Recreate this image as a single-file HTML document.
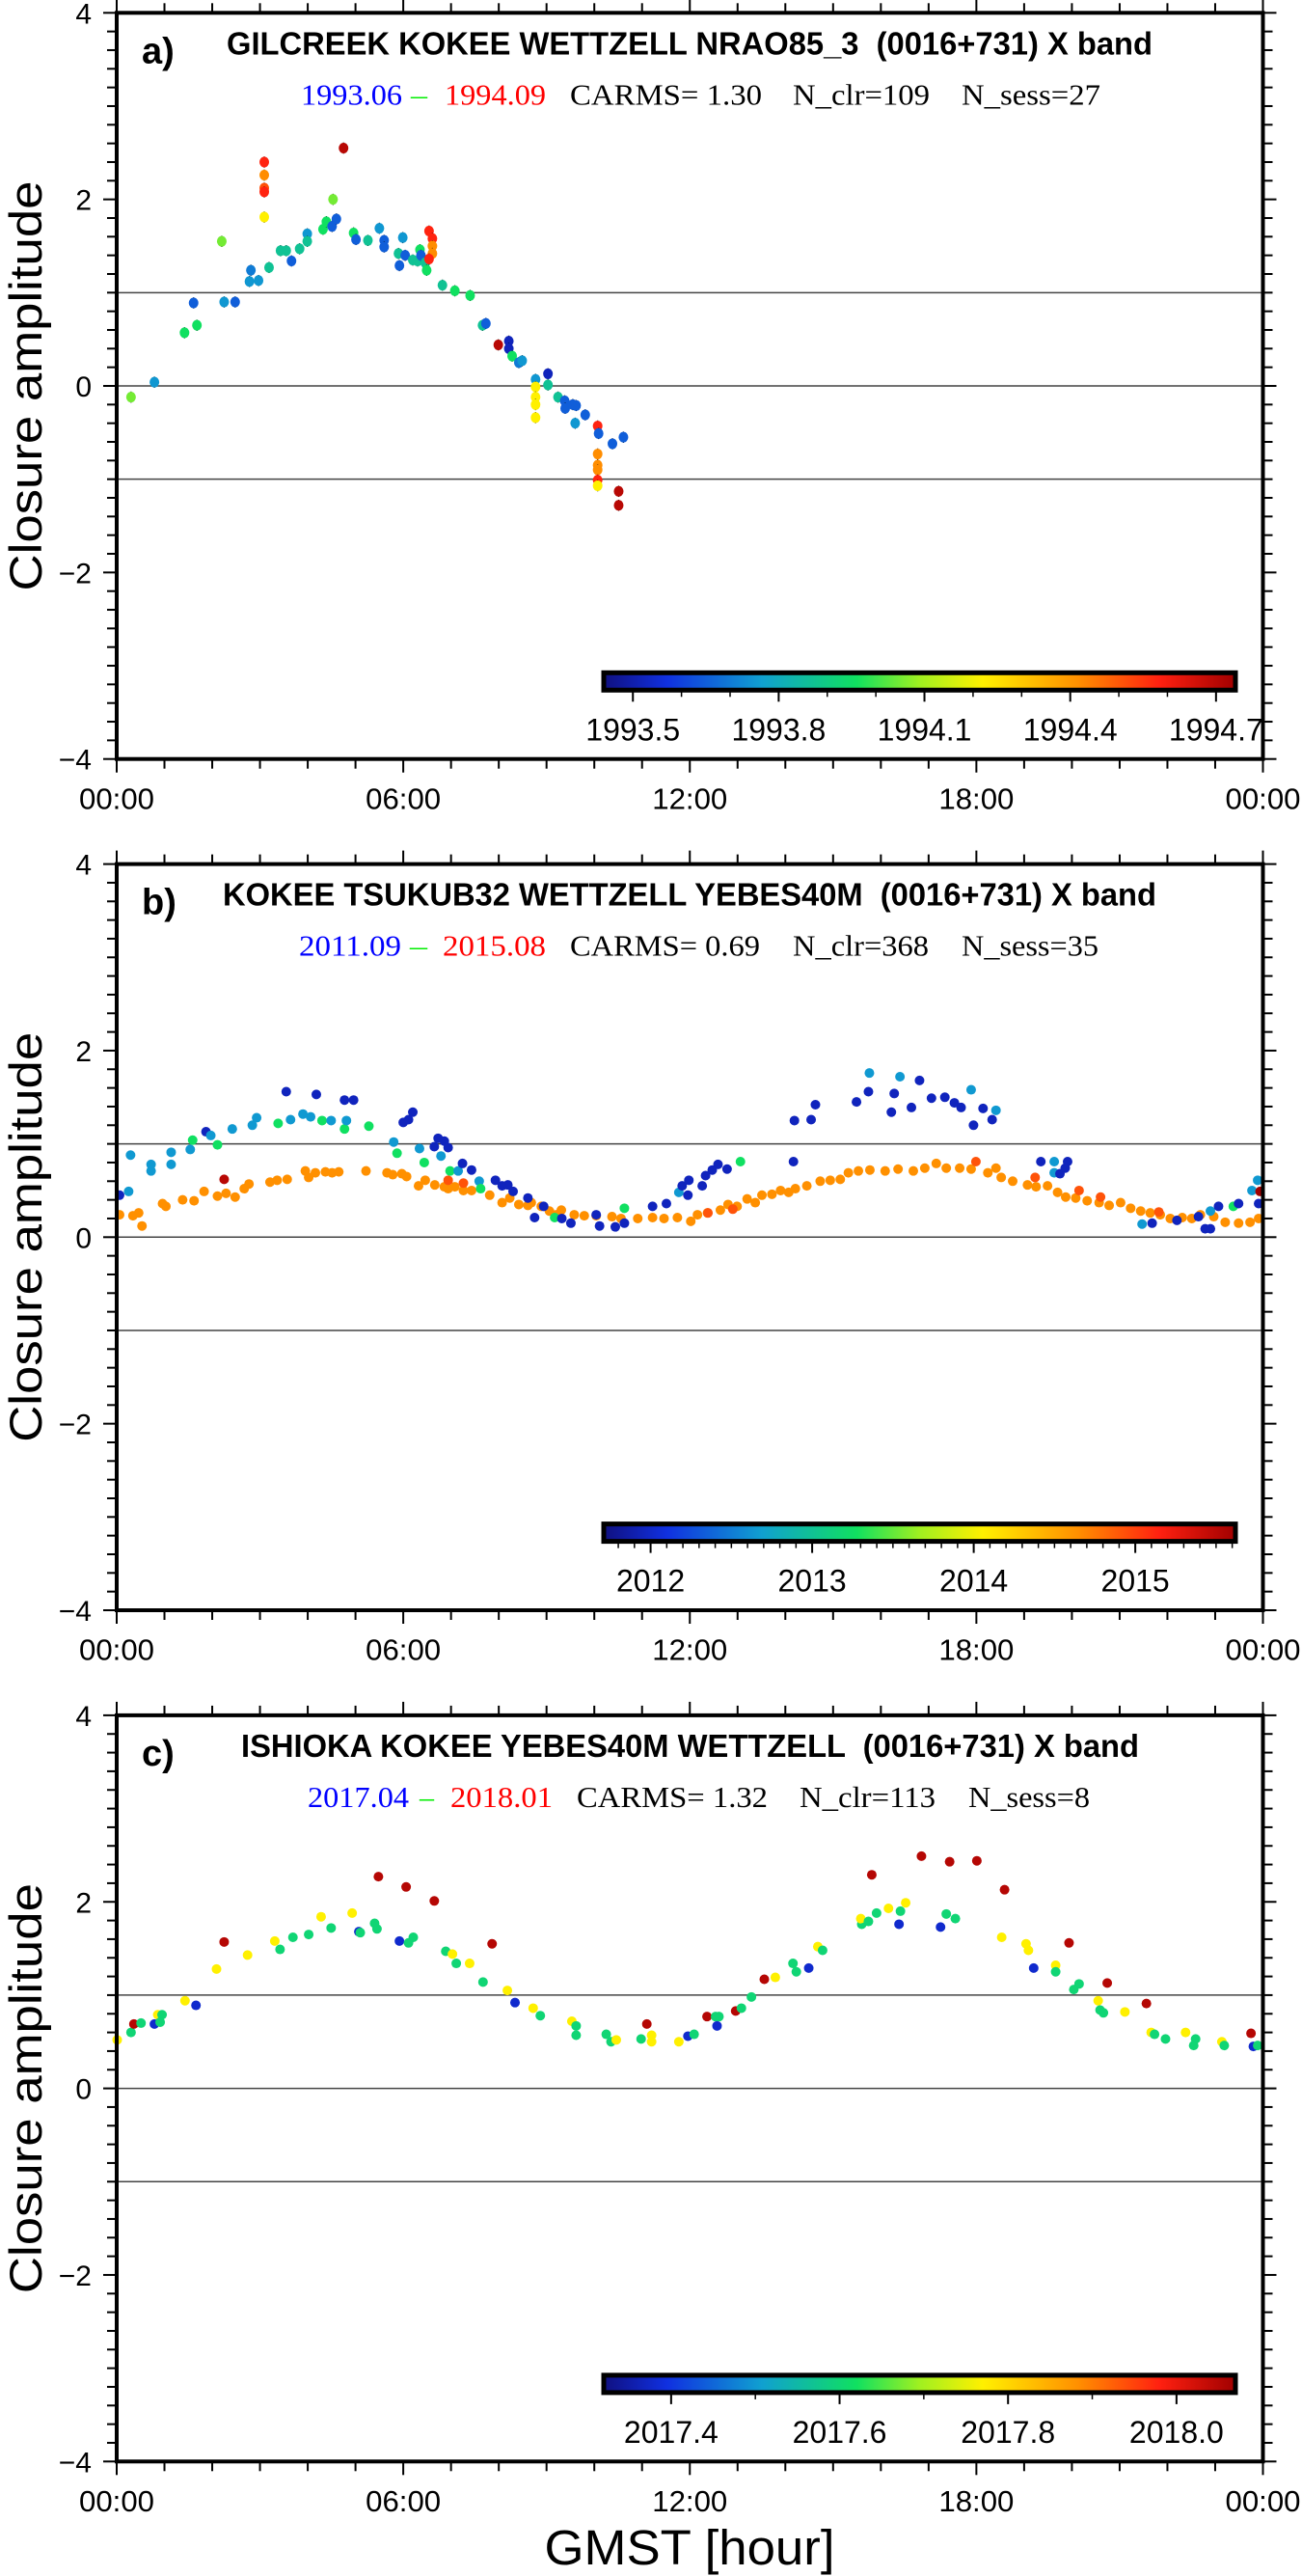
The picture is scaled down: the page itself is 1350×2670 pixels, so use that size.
<!DOCTYPE html>
<html><head><meta charset="utf-8">
<style>
html,body{margin:0;padding:0;background:#fff;}
svg{display:block;}
</style></head>
<body>
<svg id="fig" xmlns="http://www.w3.org/2000/svg" width="1350" height="2670" viewBox="0 0 1350 2670">
<defs>
<linearGradient id="cmap" x1="0" x2="1" y1="0" y2="0">
<stop offset="0" stop-color="#101080"/><stop offset="0.1" stop-color="#1030e0"/><stop offset="0.25" stop-color="#10a0d0"/><stop offset="0.4" stop-color="#10e060"/><stop offset="0.5" stop-color="#a0f020"/><stop offset="0.6" stop-color="#fff000"/><stop offset="0.75" stop-color="#ff9000"/><stop offset="0.88" stop-color="#ff2010"/><stop offset="1" stop-color="#a00000"/>
</linearGradient>
</defs>
<text x="715" y="2658" font-family="Liberation Sans, sans-serif" font-size="51" text-anchor="middle" textLength="301" lengthAdjust="spacingAndGlyphs">GMST [hour]</text>
</svg>
<script>
// ---------- Panel a data ----------
const aHours=[0.30,0.79,1.61,1.42,1.68,2.20,2.25,2.48,2.81,2.78,2.97,3.09,3.09,3.09,3.09,3.09,3.19,3.43,3.55,3.66,3.83,3.99,3.99,4.32,4.39,4.53,4.51,4.60,4.75,4.96,5.01,5.26,5.50,5.60,5.60,5.92,5.90,5.99,6.04,6.20,6.30,6.35,6.37,6.46,6.49,6.54,6.61,6.61,6.61,6.54,6.82,7.08,7.40,7.66,7.73,7.99,8.21,8.21,8.28,8.42,8.49,8.77,8.77,8.77,8.77,8.77,9.03,9.03,9.24,9.38,9.39,9.55,9.62,9.60,9.81,10.07,10.09,10.07,10.07,10.07,10.07,10.07,10.38,10.61,10.51,10.51];
const aAmps=[-0.12,0.04,0.89,0.57,0.65,1.55,0.90,0.90,1.24,1.12,1.13,2.40,2.26,2.12,2.08,1.81,1.27,1.45,1.45,1.34,1.47,1.63,1.55,1.68,1.76,2.00,1.71,1.79,2.55,1.64,1.57,1.56,1.69,1.56,1.49,1.29,1.42,1.59,1.40,1.35,1.34,1.46,1.40,1.32,1.24,1.66,1.58,1.50,1.42,1.36,1.08,1.02,0.97,0.65,0.67,0.44,0.48,0.40,0.32,0.25,0.27,0.07,-0.01,-0.12,-0.20,-0.34,0.13,0.01,-0.12,-0.16,-0.24,-0.20,-0.21,-0.40,-0.31,-0.43,-0.51,-0.73,-0.85,-0.90,-1.01,-1.07,-0.62,-0.55,-1.13,-1.28];
const aEpochs=[2.05,1.75,1.65,1.96,1.96,2.05,1.75,1.65,1.70,1.75,1.75,2.58,2.42,2.51,2.58,2.22,1.87,1.87,1.87,1.65,1.87,1.75,1.87,1.96,1.96,2.05,1.65,1.65,2.70,1.96,1.65,1.87,1.75,1.65,1.65,1.65,1.87,1.75,1.65,1.87,1.87,1.96,1.65,1.87,1.96,2.58,2.58,2.42,2.42,2.58,1.87,1.96,1.96,1.87,1.65,2.70,1.52,1.52,1.96,1.70,1.75,1.75,2.22,2.22,2.22,2.22,1.52,1.87,1.87,1.65,1.65,1.65,1.65,1.75,1.65,2.58,1.65,2.42,2.42,2.42,2.58,2.22,1.65,1.65,2.70,2.70].map(v=>1992+v);
const aTicks=[1993.5,1993.8,1994.1,1994.4,1994.7];

// ---------- Panel b data ----------
const bOrangeHours=[0.06,0.34,0.46,0.53,0.96,1.03,1.38,1.62,1.83,2.11,2.29,2.48,2.67,2.77,3.21,3.36,3.57,3.95,4.02,4.16,4.37,4.51,4.65,5.22,5.66,5.78,5.97,6.07,6.32,6.46,6.66,6.86,6.94,7.08,7.26,7.43,7.81,8.07,8.23,8.42,8.61,8.68,8.89,9.06,9.20,9.31,9.58,9.79,10.04,10.37,10.56,10.91,11.22,11.46,11.74,12.02,12.16,12.37,12.64,12.80,12.99,13.20,13.37,13.51,13.72,13.90,14.07,14.21,14.45,14.73,14.94,15.15,15.32,15.53,15.77,16.09,16.36,16.68,16.92,17.16,17.37,17.65,17.89,18.24,18.41,18.52,18.76,19.07,19.25,19.49,19.70,19.87,20.08,20.32,20.57,20.78,21.02,21.23,21.44,21.64,21.85,22.06,22.31,22.51,22.69,22.97,23.21,23.49,23.73,23.91,19.23,20.15,20.60,21.82,17.99,12.90,12.38,7.26,6.94];
const bOrangeAmps=[0.24,0.23,0.26,0.12,0.36,0.33,0.40,0.39,0.49,0.44,0.47,0.43,0.52,0.57,0.59,0.61,0.62,0.71,0.64,0.69,0.70,0.69,0.70,0.71,0.69,0.67,0.68,0.65,0.55,0.61,0.56,0.54,0.52,0.54,0.50,0.50,0.45,0.37,0.42,0.35,0.34,0.37,0.33,0.28,0.24,0.29,0.24,0.23,0.23,0.22,0.20,0.20,0.21,0.20,0.21,0.17,0.24,0.26,0.29,0.35,0.33,0.41,0.37,0.45,0.46,0.50,0.48,0.52,0.55,0.60,0.61,0.62,0.69,0.71,0.72,0.71,0.73,0.71,0.74,0.79,0.74,0.74,0.73,0.69,0.74,0.64,0.60,0.56,0.54,0.55,0.48,0.43,0.42,0.39,0.37,0.34,0.37,0.31,0.28,0.26,0.24,0.20,0.21,0.20,0.24,0.22,0.16,0.15,0.16,0.20,0.64,0.50,0.43,0.27,0.81,0.30,0.26,0.58,0.61];
const bOrangeEpochs=bOrangeHours.map((h,i)=> i<110 ? 2014.64 : 2014.92);
const bHours=[0.06,0.25,0.29,0.72,0.72,1.14,1.14,1.54,1.59,1.87,1.97,2.11,2.25,2.42,2.84,2.93,3.38,3.55,3.64,3.90,4.06,4.18,4.30,4.49,4.77,4.96,4.77,4.81,5.28,5.80,5.87,6.00,6.11,6.20,6.34,6.44,6.65,6.73,6.86,6.94,6.79,6.98,7.15,7.24,7.43,7.59,7.62,7.93,8.07,8.19,8.30,8.61,8.75,8.94,9.17,9.32,9.51,10.04,10.11,10.44,10.63,10.63,11.22,11.51,11.77,11.84,11.98,11.96,12.26,12.33,12.47,12.59,12.78,13.06,14.17,14.19,14.54,14.63,15.49,15.74,15.76,16.22,16.28,16.40,16.64,16.81,17.06,17.34,17.54,17.68,17.89,17.94,18.14,18.33,18.41,19.35,19.63,19.63,19.75,19.86,19.91,21.47,21.68,22.20,22.65,22.79,22.90,22.90,23.07,23.38,23.49,23.77,23.89,23.91,23.94];
const bAmps=[0.45,0.49,0.88,0.78,0.71,0.91,0.78,0.94,1.04,1.13,1.09,0.99,0.62,1.16,1.20,1.28,1.22,1.56,1.26,1.32,1.29,1.53,1.25,1.25,1.47,1.47,1.16,1.25,1.19,1.02,0.90,1.23,1.26,1.34,0.95,0.80,0.97,1.06,1.03,0.96,0.87,0.71,0.71,0.79,0.72,0.60,0.52,0.61,0.55,0.56,0.49,0.42,0.21,0.33,0.21,0.20,0.15,0.24,0.12,0.11,0.31,0.15,0.33,0.36,0.48,0.55,0.61,0.45,0.55,0.66,0.72,0.78,0.73,0.81,0.81,1.25,1.26,1.42,1.45,1.56,1.76,1.34,1.54,1.72,1.39,1.68,1.49,1.50,1.44,1.39,1.58,1.20,1.38,1.26,1.36,0.81,0.81,0.69,0.68,0.74,0.81,0.14,0.15,0.18,0.22,0.09,0.09,0.28,0.33,0.33,0.36,0.50,0.61,0.36,0.49];
const bCodes="btttttttgbtgr"+"tttgbtttbg"+"tbbgtgtg"+"bbbtgbbbbtg"+"tbbtgbbbbbbb"+"gbbbbbgbbb"+"tbbbbbbbb"+"gbbbbbb"+"tbbtbbbbbbtbbb"+"tbttbb"+"btbbbbbtbgbttb";
const bEpochs=bHours.map((h,i)=>({b:2011.96,t:2012.65,g:2013.27,r:2015.50})[bCodes[i]]);
const bTicks=[2012,2013,2014,2015];

// ---------- Panel c data ----------
const cHours=[0.01,0.30,0.36,0.51,0.79,0.86,0.91,0.95,1.43,1.66,2.09,2.25,2.74,3.31,3.42,3.69,4.02,4.28,4.49,4.93,5.07,5.10,5.40,5.45,5.48,5.92,6.11,6.21,6.06,6.65,6.89,7.03,7.11,7.39,7.86,7.67,8.18,8.34,8.72,8.87,9.53,9.62,9.62,10.25,10.35,10.46,10.98,11.10,11.20,11.20,11.77,11.96,12.09,12.36,12.54,12.61,12.57,12.96,13.08,13.29,13.56,13.79,14.16,14.23,14.49,14.68,14.78,15.60,15.58,15.74,15.81,15.91,16.16,16.38,16.41,16.52,16.85,17.25,17.37,17.44,17.56,18.01,18.53,18.59,19.04,19.09,19.20,19.66,19.66,19.94,20.04,20.15,20.74,20.55,20.59,20.66,21.11,21.56,21.66,21.73,21.96,22.38,22.55,22.59,23.14,23.19,23.75,23.80,23.89];
const cAmps=[0.52,0.60,0.69,0.70,0.69,0.79,0.71,0.79,0.94,0.89,1.28,1.57,1.43,1.58,1.49,1.62,1.65,1.84,1.72,1.88,1.68,1.67,1.77,1.71,2.27,1.58,1.56,1.62,2.16,2.01,1.47,1.44,1.34,1.34,1.55,1.14,1.05,0.92,0.86,0.78,0.72,0.67,0.57,0.58,0.50,0.52,0.53,0.69,0.57,0.50,0.50,0.56,0.58,0.77,0.77,0.77,0.67,0.83,0.86,0.98,1.17,1.19,1.34,1.25,1.29,1.52,1.48,1.76,1.82,1.79,2.29,1.88,1.93,1.76,1.90,1.99,2.49,1.73,1.87,2.43,1.82,2.44,1.62,2.13,1.55,1.48,1.29,1.32,1.25,1.56,1.06,1.12,1.13,0.94,0.84,0.81,0.82,0.91,0.60,0.58,0.53,0.60,0.46,0.53,0.50,0.46,0.59,0.45,0.46];
const cCodes="ygrgbyggybyryyggg"+"ygybgggrbg"+"grrgygyrgy"+"bygyggggyg"+"ryyybgrggb"+"rggryggbyg"+"gygrgybgyr"+"bgrgryryyb"+"ygrggryggy"+"ryggyggygr"+"bg";
const cEpochs=cHours.map((h,i)=>({b:2017.38,g:2017.60,y:2017.77,r:2018.05})[cCodes[i]]);
const cTicks=[2017.4,2017.6,2017.8,2018.0];

const NS="http://www.w3.org/2000/svg";
const svg=document.getElementById('fig');
const L=121,R=1309.5,PH=773.4;
const stops=[[0,[16,16,128]],[0.1,[16,48,224]],[0.25,[16,160,208]],[0.4,[16,224,96]],[0.5,[160,240,32]],[0.6,[255,240,0]],[0.75,[255,144,0]],[0.88,[255,32,16]],[1,[160,0,0]]];
function cmap(t){t=Math.max(0,Math.min(1,t));for(let i=1;i<stops.length;i++){if(t<=stops[i][0]){const a=stops[i-1],b=stops[i];const f=(t-a[0])/(b[0]-a[0]);const c=a[1].map((v,k)=>Math.round(v+(b[1][k]-v)*f));return 'rgb('+c.join(',')+')';}}return 'rgb(160,0,0)';}
function mk(tag,attrs,parent,name){const el=document.createElementNS(NS,tag);for(const k in attrs)el.setAttribute(k,attrs[k]);


(parent||svg).appendChild(el);return el;}
function txt(s,attrs,parent,name){const el=mk('text',Object.assign({'font-family':'Liberation Sans, sans-serif'},attrs),parent,name);el.textContent=s;return el;}

function panel(idx,letter,title,titleX,sub,hoursArrs,ampArrs,epochArrs,cbStart,cbEnd,cbTicks,cbMinor,cbLabelFmt){
  const T=13.3+idx*882.3;
  const g=mk('g',{},svg,'panel-'+letter);
  const x=h=>L+(R-L)*h/24;
  const y=v=>T+PH*(4-v)/8;
  [1,0,-1].forEach(v=>mk('line',{x1:L,x2:R,y1:y(v),y2:y(v),stroke:'#444','stroke-width':1.5},g,'reference-line'));
  for(let i=0;i<=40;i++){const v=-4+i*0.2;const maj=(i%10===0);const len=maj?14:10;
    mk('line',{x1:L-len,x2:L,y1:y(v),y2:y(v),stroke:'#000','stroke-width':2},g,'y-tick-left');
    mk('line',{x1:R,x2:R+len,y1:y(v),y2:y(v),stroke:'#000','stroke-width':2},g,'y-tick-right');}
  for(let h=0;h<=24;h++){const maj=(h%6===0);const len=maj?14:10;
    mk('line',{x1:x(h),x2:x(h),y1:T-len,y2:T,stroke:'#000','stroke-width':2},g,'x-tick-top');
    mk('line',{x1:x(h),x2:x(h),y1:T+PH,y2:T+PH+len,stroke:'#000','stroke-width':2},g,'x-tick-bottom');}
  [4,2,0,-2,-4].forEach(v=>txt(v<0?'\u2212'+(-v):String(v),{x:95,y:y(v)+11,'font-size':30,'text-anchor':'end'},g,'y-tick-label'));
  ['00:00','06:00','12:00','18:00','00:00'].forEach((s,i)=>txt(s,{x:x(i*6),y:T+825,'font-size':31,'text-anchor':'middle',textLength:78,lengthAdjust:'spacingAndGlyphs'},g,'x-tick-label'));
  txt('Closure amplitude',{x:0,y:0,'font-size':47,'text-anchor':'middle',textLength:425,lengthAdjust:'spacingAndGlyphs',transform:'translate(43,'+(T+386.7)+') rotate(-90)'},g,'y-axis-title');
  const cx0=626,cx1=1281,cy0=T+684,cy1=T+702;
  const cx=e=>cx0+(cx1-cx0)*(e-cbStart)/(cbEnd-cbStart);
  mk('rect',{x:cx0,y:cy0,width:cx1-cx0,height:cy1-cy0,fill:'url(#cmap)',stroke:'#000','stroke-width':5},g,'colorbar');
  for(let e=Math.ceil(cbStart/cbMinor)*cbMinor;e<=cbEnd+1e-9;e+=cbMinor){mk('line',{x1:cx(e),x2:cx(e),y1:cy1+2,y2:cy1+7,stroke:'#000','stroke-width':1.5},g,'colorbar-minor-tick');}
  cbTicks.forEach(e=>{mk('line',{x1:cx(e),x2:cx(e),y1:cy1+2,y2:cy1+12,stroke:'#000','stroke-width':2},g,'colorbar-tick');
    txt(cbLabelFmt(e),{x:cx(e),y:T+754,'font-size':32,'text-anchor':'middle'},g,'colorbar-tick-label');});
  for(let s=0;s<hoursArrs.length;s++){const H=hoursArrs[s],A=ampArrs[s],E=epochArrs[s];
    for(let i=0;i<H.length;i++){
      if(idx===0) mk('line',{x1:x(H[i]),x2:x(H[i]),y1:y(A[i]+0.06),y2:y(A[i]-0.06),stroke:'#000','stroke-width':1.2},g,'error-bar');
      const c=cmap((E[i]-cbStart)/(cbEnd-cbStart));
      mk('ellipse',{cx:x(H[i]),cy:y(A[i]),rx:5,ry:idx===0?5.5:5,fill:c},g,'data-point');}}
  mk('rect',{x:L,y:T,width:R-L,height:PH,fill:'none',stroke:'#000','stroke-width':4},g,'plot-frame');
  txt(letter+')',{x:147,y:T+52,'font-size':38,'font-weight':'bold'},g,'panel-label');
  txt(title,{x:titleX[0],y:T+43,'font-size':33,'font-weight':'bold',textLength:titleX[1]-titleX[0],lengthAdjust:'spacingAndGlyphs'},g,'panel-title');
  sub.forEach(p=>txt(p[0],{x:p[1],y:T+95,'font-size':31,'font-family':'Liberation Serif, serif',fill:p[3],textLength:p[2]-p[1],lengthAdjust:'spacingAndGlyphs'},g,'subtitle-part'));
}
panel(0,'a','GILCREEK KOKEE WETTZELL NRAO85_3 \u00a0(0016+731) X band',[235,1195],
 [['1993.06',312,417,'#0000ff'],['\u2013',426,443,'#00ee00'],['1994.09',461,566,'#ff0000'],['CARMS= 1.30',591,790,'#000'],['N_clr=109',822,964,'#000'],['N_sess=27',997,1141,'#000']],
 [aHours],[aAmps],[aEpochs],1993.44,1994.74,aTicks,0.1,e=>e.toFixed(1));
panel(1,'b','KOKEE TSUKUB32 WETTZELL YEBES40M \u00a0(0016+731) X band',[231,1199],
 [['2011.09',310,416,'#0000ff'],['\u2013',425,443,'#00ee00'],['2015.08',459,566,'#ff0000'],['CARMS= 0.69',591,788,'#000'],['N_clr=368',822,963,'#000'],['N_sess=35',997,1139,'#000']],
 [bOrangeHours,bHours],[bOrangeAmps,bAmps],[bOrangeEpochs,bEpochs],2011.71,2015.62,bTicks,0.1,e=>String(e));
panel(2,'c','ISHIOKA KOKEE YEBES40M WETTZELL \u00a0(0016+731) X band',[250,1181],
 [['2017.04',319,424,'#0000ff'],['\u2013',435,450,'#00ee00'],['2018.01',467,573,'#ff0000'],['CARMS= 1.32',598,796,'#000'],['N_clr=113',829,970,'#000'],['N_sess=8',1004,1130,'#000']],
 [cHours],[cAmps],[cEpochs],2017.32,2018.07,cTicks,0.1,e=>e.toFixed(1));
</script>
</body></html>
